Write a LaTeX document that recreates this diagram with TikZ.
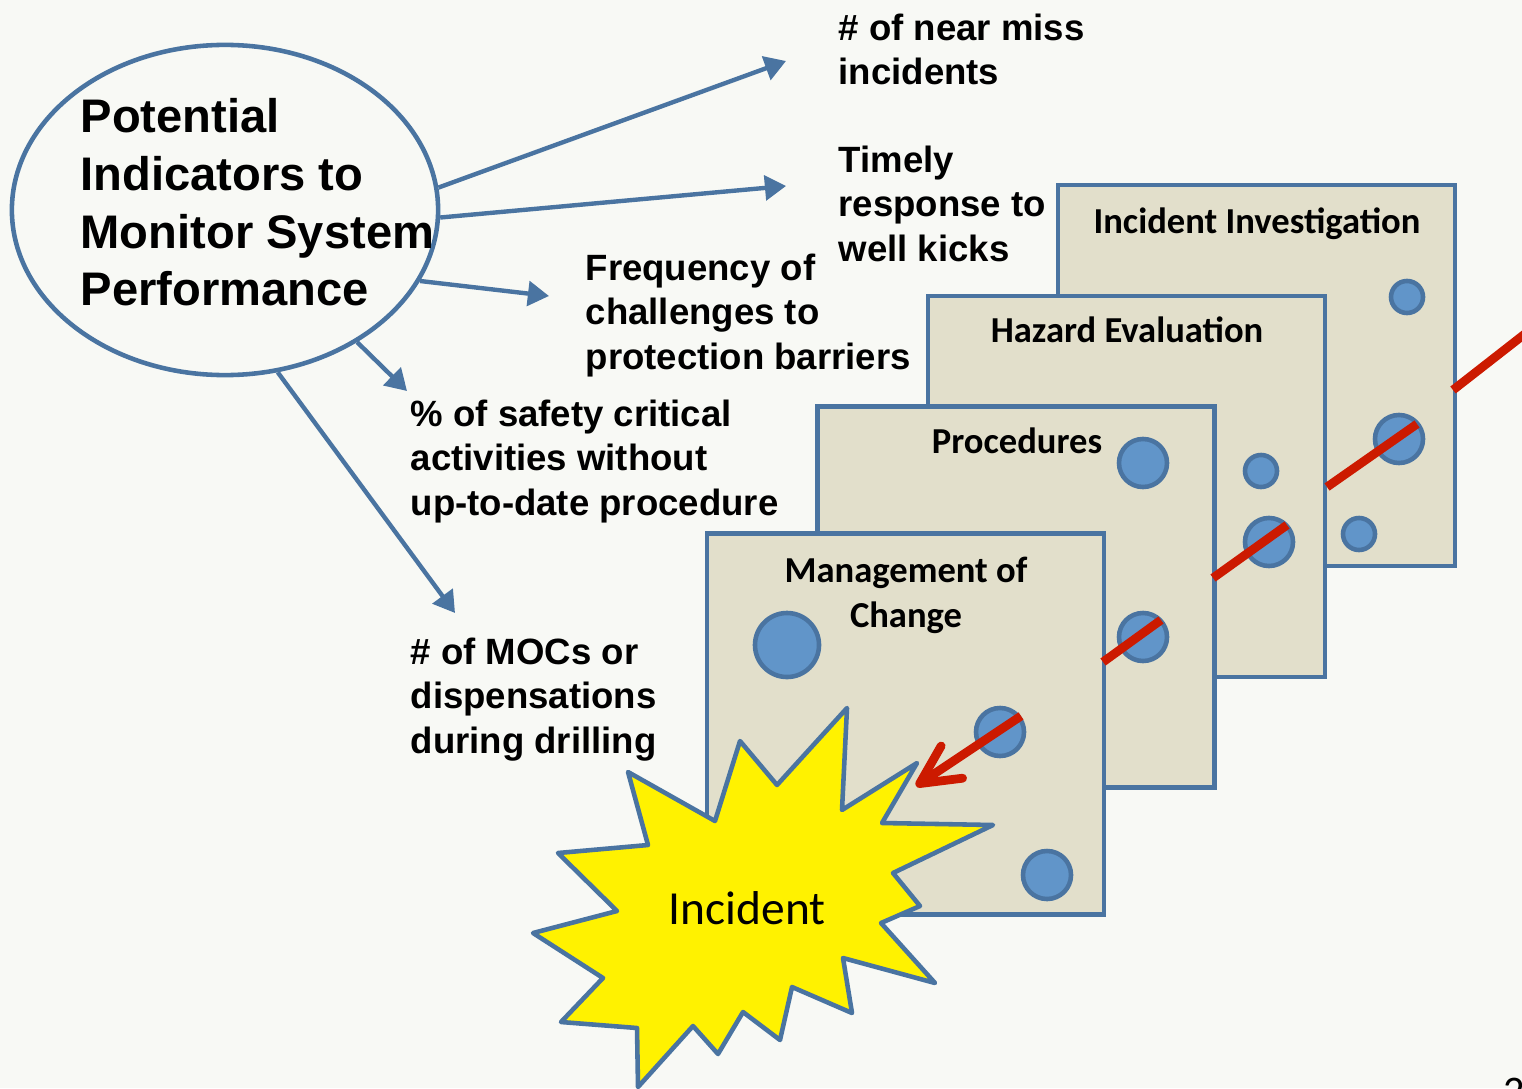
\documentclass[tikz,border=0pt]{standalone}
\usepackage{fontspec}
\setmainfont{Liberation Sans}
\newfontfamily\calibrifont{Carlito}
\usetikzlibrary{shapes.geometric,arrows.meta}

\definecolor{slidebg}{HTML}{F8F9F5}
\definecolor{edgeblue}{HTML}{4A74A1}
\definecolor{holeblue}{HTML}{6195C9}
\definecolor{panelfill}{HTML}{E2DFCB}
\definecolor{hazardred}{HTML}{CC1A00}

\tikzstyle{panel}=[rectangle,draw=edgeblue,fill=panelfill,line width=1.3pt,minimum width=3.97cm,minimum height=3.81cm]
\tikzstyle{hole}=[circle,draw=edgeblue,fill=holeblue,line width=1.3pt,inner sep=0pt]
\tikzstyle{indicator}=[align=left,anchor=north west,inner sep=0pt,font=\bfseries\fontsize{10.4}{12.7}\selectfont]
\tikzstyle{paneltitle}=[inner sep=0pt,font=\calibrifont\bfseries\fontsize{10.4}{12.8}\selectfont]
\tikzstyle{link}=[draw=edgeblue,line width=1.25pt,-{Triangle[length=6pt,width=7pt]}]
\tikzstyle{hazard}=[draw=hazardred,line width=2.5pt]

\begin{document}
\begin{tikzpicture}[x=0.01cm,y=-0.01cm]
    \path[use as bounding box,clip] (0,0) rectangle (1522,1088);
    \fill[slidebg] (0,0) rectangle (1522,1088);

    % indicators
    \node (ind) at (225,210) [ellipse,draw=edgeblue,line width=1.3pt,minimum width=4.26cm,minimum height=3.30cm,inner sep=0pt] {};
    \node (indtxt) at (80,98) [anchor=north west,align=left,inner sep=0pt,font=\bfseries\fontsize{13.4}{16.4}\selectfont] {Potential\\Indicators to\\Monitor System\\Performance};
    \node (nearmiss) at (838,13) [indicator] {\# of near miss\\incidents};
    \node (kicks) at (838,145) [indicator] {Timely\\response to\\well kicks};
    \node (barriers) at (585,253) [indicator] {Frequency of\\challenges to\\protection barriers};
    \node (safety) at (410,399) [indicator] {\% of safety critical\\activities without\\up-to-date procedure};
    \node (mocs) at (410,637) [indicator] {\# of MOCs or\\dispensations\\during drilling};
    \coordinate (tipa) at (786,61);
    \coordinate (tipb) at (786,186);
    \coordinate (tipc) at (549,296);
    \coordinate (tipd) at (407,391);
    \coordinate (tipe) at (455,613);
    \draw[link] (ind.6) -- (tipa);
    \draw[link] (ind.-2) -- (tipb);
    \draw[link] (ind.-20) -- (tipc);
    \draw[link] (ind.-45) -- (tipd);
    \draw[link] (ind.-72) -- (tipe);

    % layers, back to front
    \node (invest) at (1256.5,375.5) [panel] {};
    \node (investt) at (1257,233) [paneltitle,anchor=base] {Incident Investigation};
    \node (inva) at (1407,297) [hole,minimum size=0.32cm] {};
    \node (invb) at (1399,439) [hole,minimum size=0.48cm] {};
    \node (invc) at (1359,534) [hole,minimum size=0.32cm] {};
    \coordinate (hza) at (1453,390);
    \coordinate (hzb) at (1535,326);
    \draw[hazard] (hza) -- (hzb);

    \node (hazard) at (1126.5,486.5) [panel] {};
    \node (hazardt) at (1127,342) [paneltitle,anchor=base] {Hazard Evaluation};
    \node (haza) at (1261,471) [hole,minimum size=0.32cm] {};
    \node (hazb) at (1269,542) [hole,minimum size=0.48cm] {};
    \coordinate (hzc) at (1327,487);
    \coordinate (hzd) at (1417,424);
    \draw[hazard] (hzc) -- (hzd);

    \node (proc) at (1016,597) [panel] {};
    \node (proct) at (1017,453) [paneltitle,anchor=base] {Procedures};
    \node (proca) at (1143,463) [hole,minimum size=0.48cm] {};
    \node (procb) at (1143,637) [hole,minimum size=0.48cm] {};
    \coordinate (hze) at (1213,578);
    \coordinate (hzf) at (1287,525);
    \draw[hazard] (hze) -- (hzf);

    \node (moc) at (905.5,724) [panel] {};
    \node (moct) at (906,556) [paneltitle,anchor=north,align=center] {Management of\\Change};
    \node (moca) at (787,645) [hole,minimum size=0.64cm] {};
    \node (mocb) at (1000,732) [hole,minimum size=0.48cm] {};
    \node (mocc) at (1047,875) [hole,minimum size=0.48cm] {};
    \coordinate (hzg) at (1103,662);
    \coordinate (hzh) at (1161,620);
    \draw[hazard] (hzg) -- (hzh);

    % incident
    \draw[fill=yellow,draw=edgeblue,line width=1.3pt,line join=round]
        (847,708) -- (842,810) -- (917,763) -- (882,823) -- (993,825) -- (893,873)
        -- (920,906) -- (881,923) -- (935,983) -- (843,958) -- (852,1013) -- (792,987)
        -- (780,1040) -- (743,1012) -- (718,1054) -- (693,1026) -- (638,1087) -- (637,1028)
        -- (561,1022) -- (603,978) -- (533,933) -- (617,911) -- (558,853) -- (648,845)
        -- (628,772) -- (715,821) -- (740,741) -- (777,785) -- cycle;
    \node (incident) at (747,908) [font=\calibrifont\fontsize{13.5}{16}\selectfont] {Incident};
    \coordinate (hzi) at (1021,716);
    \coordinate (hzj) at (916,786);
    \draw[hazard,-{Straight Barb[length=11pt,width=11pt,round]}] (hzi) -- (hzj);

    \node (pagenum) at (1503,1077) [anchor=north west,inner sep=0pt,font=\calibrifont\fontsize{12}{14}\selectfont] {2};
\end{tikzpicture}
\end{document}
